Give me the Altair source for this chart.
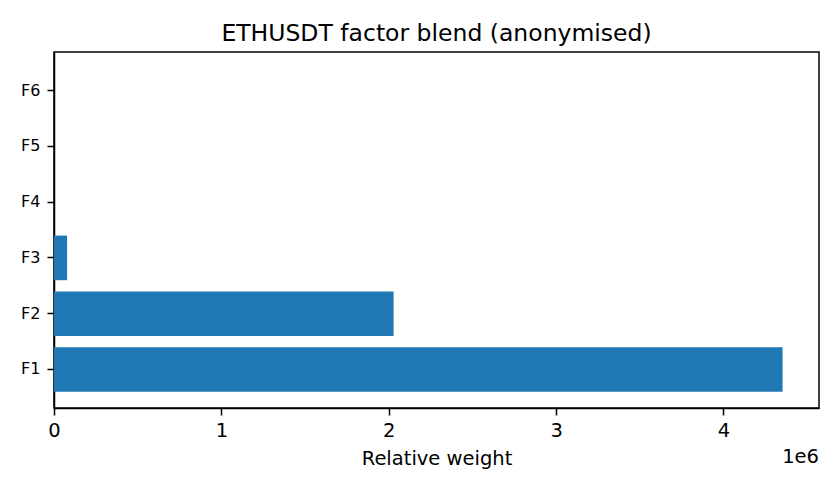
import altair as alt
import pandas as pd

# factor weights
factors = ["F1", "F2", "F3", "F4", "F5", "F6"]
weights = [4353000, 2029000, 78000, 0, 0, 0]
x_ticks = [0, 1e6, 2e6, 3e6, 4e6]

df = pd.DataFrame({"factor": factors, "weight": weights})

FONT = "DejaVu Sans"

bars = (
    alt.Chart(df)
    .mark_bar(color="#1f77b4")
    .encode(
        x=alt.X(
            "weight:Q",
            title="Relative weight",
            scale=alt.Scale(domain=[0, max(weights) * 1.05], nice=False, zero=True),
            axis=alt.Axis(
                values=x_ticks,
                labelExpr="format(datum.value / 1e6, 'd')",
                labelFlush=False,
                grid=False,
                tickSize=7,
                labelPadding=6,
                labelFontSize=19.5,
                titleFontSize=19.5,
                titlePadding=10,
                titleFontWeight="normal",
            ),
        ),
        y=alt.Y(
            "factor:N",
            title=None,
            sort=factors[::-1],
            scale=alt.Scale(paddingInner=0.2, paddingOuter=0.29),
            axis=alt.Axis(
                grid=False,
                tickSize=7,
                labelPadding=7,
                labelFontSize=16,
            ),
        ),
        tooltip=["factor", "weight"],
    )
)

offset_text = (
    alt.Chart(pd.DataFrame({"t": ["1e6"]}))
    .mark_text(align="right", baseline="middle", fontSize=19.5, font=FONT, color="black")
    .encode(x=alt.value(765), y=alt.value(405), text="t:N")
)

chart = (
    alt.layer(bars, offset_text)
    .properties(
        width=765,
        height=356,
        title=alt.TitleParams(
            "ETHUSDT factor blend (anonymised)",
            fontSize=23.5,
            fontWeight="normal",
            font=FONT,
            color="black",
            offset=7,
        ),
        autosize=alt.AutoSizeParams(type="none"),
        padding={"left": 46, "top": 44, "right": 12, "bottom": 72},
    )
    .configure(font=FONT)
    .configure_axis(
        domainColor="black",
        domainWidth=1.5,
        tickColor="black",
        tickWidth=1.5,
        labelColor="black",
        titleColor="black",
        labelFont=FONT,
        titleFont=FONT,
    )
    .configure_view(stroke="black", strokeWidth=1.5)
)

chart.save("out.html", embed_options={"renderer": "svg", "actions": False})
